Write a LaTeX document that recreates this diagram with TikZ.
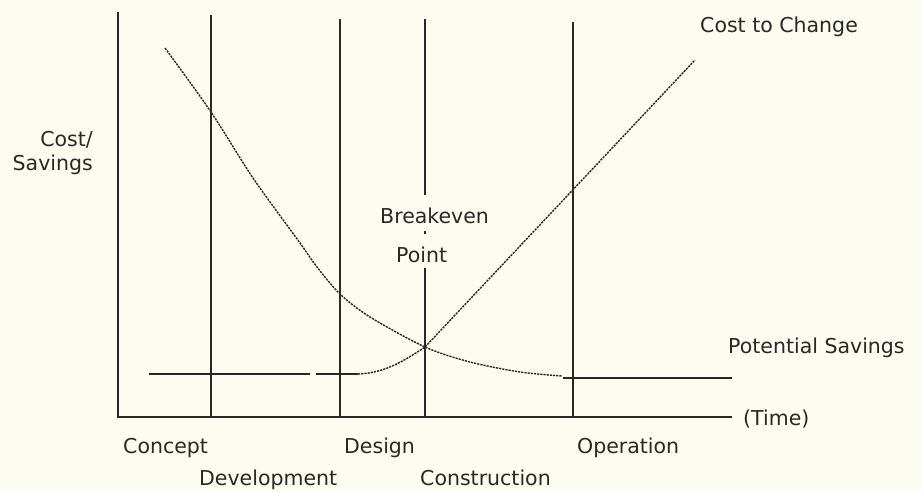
\documentclass[tikz,border=0pt]{standalone}
\usepackage{fontspec}
\setmainfont{DejaVu Sans}
\definecolor{paper}{RGB}{252,252,240}
\definecolor{ink}{RGB}{40,40,40}
\begin{document}
\begin{tikzpicture}[x=1pt,y=-1pt,
  axis/.style={draw=ink,line width=1.6pt},
  phase/.style={draw=ink,line width=1.2pt},
  curve/.style={draw=ink,line width=1.4pt,dash pattern=on 2.2pt off 1pt},
  flat/.style={draw=ink,line width=1.3pt},
  lbl/.style={inner sep=0pt,anchor=base west,text=ink,font=\fontsize{20.5}{24}\selectfont}]
\fill[paper] (0,0) rectangle (922,491);
\useasboundingbox (0,0) rectangle (922,491);
% axes
\coordinate (ytop) at (118,12);
\coordinate (origin) at (118,417);
\coordinate (xend) at (732,417);
\draw[axis] (ytop) -- (origin) -- (xend);
% phase lines
\draw[phase] (211,15) -- (211,417);
\draw[phase] (340,19) -- (340,417);
\draw[phase] (425,19) -- (425,195);
\draw[phase] (425,231) -- (425,234);
\draw[phase] (425,268) -- (425,417);
\draw[phase] (573,22) -- (573,417);
% cost to change
\draw[flat] (149,374) -- (310,374);
\draw[flat] (316,374) -- (358,374);
\draw[curve] (358,374) .. controls (380,373) and (397,366) .. (425,347) -- (695,60);
% potential savings
\draw[curve] plot[smooth,tension=0.5] coordinates {(165,48) (211,112) (253,178) (300,243) (317,267) (340,294) (370,317) (425,347) (470,362) (520,372) (562,376)};
\draw[flat] (563,378) -- (732,378);
% labels
\node[lbl] (ctc) at (700,32) {Cost to Change};
\node[lbl,anchor=base east] (cost) at (93,146) {Cost/};
\node[lbl,anchor=base east] (sav) at (93,170) {Savings};
\node[lbl] (be) at (380,223) {Breakeven};
\node[lbl] (pt) at (396,262) {Point};
\node[lbl] (ps) at (728,353) {Potential Savings};
\node[lbl] (time) at (743,425) {(Time)};
\node[lbl] (conc) at (123,453) {Concept};
\node[lbl] (des) at (344,453) {Design};
\node[lbl] (oper) at (577,453) {Operation};
\node[lbl] (dev) at (199,485) {Development};
\node[lbl] (cons) at (420,485) {Construction};
\end{tikzpicture}
\end{document}
